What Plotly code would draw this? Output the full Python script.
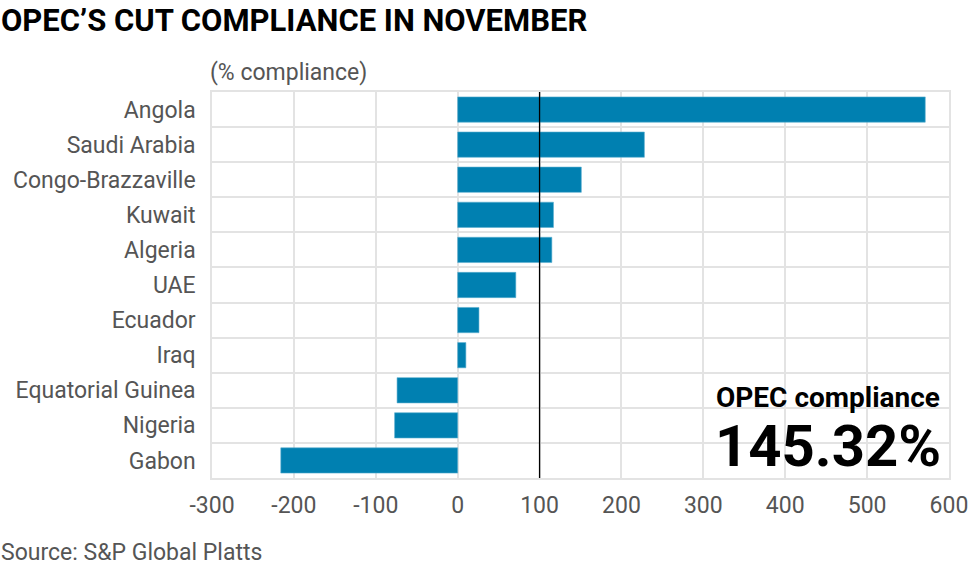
import plotly.graph_objects as go

countries = ["Angola", "Saudi Arabia", "Congo-Brazzaville", "Kuwait", "Algeria", "UAE",
             "Ecuador", "Iraq", "Equatorial Guinea", "Nigeria", "Gabon"]
compliance = [571, 228, 151, 117, 115, 71, 26, 10, -74, -77, -216]
x_ticks = [-300, -200, -100, 0, 100, 200, 300, 400, 500, 600]
x_tick_labels = ["-300", "-200", "-100", "0", "100", "200", "300", "400", "500", "600"]
opec_total = "145.32%"

FONT = "Roboto"
GRID = "#e3e3e3"
GRAY = "#555555"
W, H = 980, 568
ML, MR, MT, MB = 212, 28, 92, 90
PW, PH = W - ML - MR, H - MT - MB


def px_x(px):
    return (px - ML) / PW


def px_y(py):
    return (H - MB - py) / PH


fig = go.Figure()
fig.add_trace(go.Bar(
    x=compliance, y=countries, orientation="h",
    marker=dict(color="#0080b1", line=dict(color="#5aaed0", width=0.6)),
    width=0.72, showlegend=False, hoverinfo="x+y",
))

fig.add_shape(type="line", x0=100, x1=100, xref="x", y0=0, y1=1, yref="paper",
              line=dict(color="black", width=1.3), layer="above")

fig.update_layout(
    width=W, height=H,
    margin=dict(l=ML, r=MR, t=MT, b=MB),
    paper_bgcolor="white", plot_bgcolor="white",
    font=dict(family=FONT, color=GRAY, size=23),
    xaxis=dict(range=[-300, 600], tickvals=x_ticks, ticktext=x_tick_labels,
               showgrid=True, gridcolor=GRID, gridwidth=1.5,
               zeroline=False, showline=True, mirror=True, linecolor=GRID, linewidth=1.5,
               ticks="", ticklabelstandoff=6, tickfont=dict(size=23, color=GRAY, family=FONT)),
    yaxis=dict(type="category", autorange="reversed", tickson="boundaries", showgrid=True,
               gridcolor=GRID, gridwidth=1.5, showline=True, mirror=True, linecolor=GRID,
               linewidth=1.5, ticks="", ticklabelstandoff=10,
               tickfont=dict(size=23, color=GRAY, family=FONT)),
    annotations=[
        dict(text="<b>OPEC’S CUT COMPLIANCE IN NOVEMBER</b>", x=px_x(-2), y=px_y(20),
             xref="paper", yref="paper", xanchor="left", yanchor="middle", showarrow=False,
             font=dict(size=31, color="black", family=FONT)),
        dict(text="(% compliance)", x=px_x(208), y=px_y(72), xref="paper", yref="paper",
             xanchor="left", yanchor="middle", showarrow=False,
             font=dict(size=23, color=GRAY, family=FONT)),
        dict(text="Source: S&P Global Platts", x=px_x(-2), y=px_y(552), xref="paper", yref="paper",
             xanchor="left", yanchor="middle", showarrow=False,
             font=dict(size=23, color=GRAY, family=FONT)),
        dict(text="<b>OPEC compliance</b>", x=px_x(945), y=px_y(397), xref="paper", yref="paper",
             xanchor="right", yanchor="middle", showarrow=False,
             font=dict(size=28, color="black", family=FONT)),
        dict(text="<b>" + opec_total + "</b>", x=px_x(946), y=px_y(446), xref="paper", yref="paper",
             xanchor="right", yanchor="middle", showarrow=False,
             font=dict(size=58, color="black", family=FONT)),
    ],
)

fig.write_html("out.html", config={"displayModeBar": False},
               post_script="document.body.style.margin='0';document.body.style.overflow='hidden';")
